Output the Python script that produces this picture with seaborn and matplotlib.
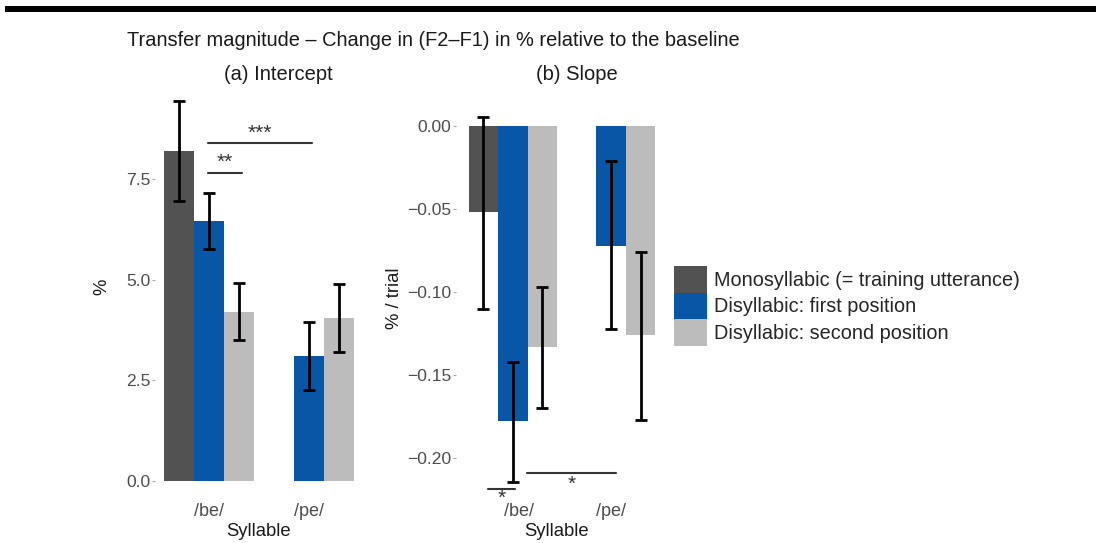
import numpy as np
import pandas as pd
import matplotlib
matplotlib.use("Agg")
import matplotlib.pyplot as plt
import matplotlib.transforms as mtransforms
import seaborn as sns
from matplotlib.patches import Patch

sns.set_theme(style="white")
plt.rcParams['font.family'] = ['Liberation Sans', 'DejaVu Sans']

# categories
syllables = ["/be/", "/pe/"]
conditions = ["Monosyllabic (= training utterance)",
              "Disyllabic: first position",
              "Disyllabic: second position"]

# (a) intercept, % -- monosyllabic only exists for /be/
int_syll = ["/be/", "/be/", "/be/", "/pe/", "/pe/"]
int_cond = [conditions[0], conditions[1], conditions[2], conditions[1], conditions[2]]
int_mean = [8.19, 6.45, 4.19, 3.10, 4.04]
int_lo = [6.95, 5.76, 3.50, 2.26, 3.20]
int_hi = [9.43, 7.15, 4.91, 3.95, 4.89]

# (b) slope, % / trial
slope_mean = [-0.052, -0.178, -0.133, -0.072, -0.126]
slope_lo = [-0.110, -0.2145, -0.170, -0.122, -0.177]
slope_hi = [0.0054, -0.142, -0.097, -0.021, -0.076]

# significance brackets: (x0, x1, y of line, y of label, label)
sig_a = [(-0.01, 0.33, 7.64, 7.90, "**"),
         (-0.01, 1.03, 8.39, 8.62, "***")]
sig_b = [(-0.255, 0.02, -0.2187, -0.2245, "*"),
         (0.14, 1.05, -0.2090, -0.2160, "*")]

COLORS = ["#525252", "#0a56a6", "#bcbcbc"]
TICK_COLOR = "#4d4d4d"
TEXT_COLOR = "#1a1a1a"

W, H = 1096, 543
fig = plt.figure(figsize=(W / 100, H / 100), dpi=100)

def px_axes(left, top, right, bottom):
    return fig.add_axes([left / W, 1 - bottom / H, (right - left) / W, (bottom - top) / H])

ax_a = px_axes(155, 84, 363, 500)
ax_b = px_axes(456, 84, 668, 500)


def draw_panel(ax, mean, lo, hi, sig, ylim, xlim, yticks, ylabel, fmt):
    df = pd.DataFrame({"Syllable": int_syll, "cond": int_cond,
                       "mean": mean, "lo": lo, "hi": hi})
    sns.barplot(data=df, x="Syllable", y="mean", hue="cond",
                order=syllables, hue_order=conditions, palette=COLORS,
                width=0.9, errorbar=None, saturation=1, ax=ax, legend=False,
                linewidth=0)
    # error bars at the bar centres
    for cond, cont in zip(conditions, ax.containers):
        sub = df[df["cond"] == cond]
        xs = [b.get_x() + b.get_width() / 2 for b in cont]
        for x, (_, row) in zip(xs, sub.iterrows()):
            ax.errorbar(x, row["mean"], yerr=[[row["mean"] - row["lo"]], [row["hi"] - row["mean"]]],
                        fmt="none", ecolor="black", elinewidth=2, capsize=4.5, capthick=2, zorder=5)
    for x0, x1, yl, yt, lab in sig:
        ax.plot([x0, x1], [yl, yl], color="#333333", lw=1.5, zorder=6)
        ax.text((x0 + x1) / 2, yt, lab, ha="center", va="center", fontsize=15, color="#333333")
    ax.set_xlim(*xlim)
    ax.set_ylim(*ylim)
    ax.set_yticks(yticks)
    ax.set_yticklabels([fmt.format(v).replace("-", "\u2212") for v in yticks])
    for s in ax.spines.values():
        s.set_visible(False)
    ax.tick_params(axis="y", length=2.5, width=0.8, color="#aaaaaa", labelcolor=TICK_COLOR,
                   labelsize=12.6, pad=1, left=True)
    ax.tick_params(axis="x", length=0, labelcolor=TICK_COLOR, labelsize=13, pad=2)
    ax.set_ylabel(ylabel, fontsize=13.3, color=TEXT_COLOR)
    ax.set_xlabel("Syllable", fontsize=13.3, color=TEXT_COLOR)
    ax.grid(False)


draw_panel(ax_a, int_mean, int_lo, int_hi, sig_a, (-0.47, 9.85), (-0.54, 1.54),
           [0.0, 2.5, 5.0, 7.5], "%", "{:.1f}")
draw_panel(ax_b, slope_mean, slope_lo, slope_hi, sig_b, (-0.2253, 0.0253), (-0.58, 1.58),
           [0.00, -0.05, -0.10, -0.15, -0.20], "% / trial", "{:.2f}")

# in panel (b) the /be/ label sits a little to the right of its group, next to the star
be_label = ax_b.get_xticklabels()[0]
be_label.set_transform(be_label.get_transform() +
                       mtransforms.ScaledTranslation(6 / 100, 0, fig.dpi_scale_trans))

# label placement like the original
ax_a.xaxis.set_label_coords(0.50, -0.055)
ax_b.xaxis.set_label_coords(0.475, -0.055)
ax_a.yaxis.set_label_coords((110 - 155) / 208, (500 - 287) / 416)
ax_b.yaxis.set_label_coords((403 - 456) / 212, (500 - 298) / 416)

fig.text(278 / W, 1 - 74 / H, "(a) Intercept", ha="center", va="center", fontsize=14.5, color=TEXT_COLOR)
fig.text(577 / W, 1 - 74 / H, "(b) Slope", ha="center", va="center", fontsize=14.5, color=TEXT_COLOR)
fig.text(433 / W, 1 - 40 / H, "Transfer magnitude \u2013 Change in (F2\u2013F1) in % relative to the baseline",
         ha="center", va="center", fontsize=14.4, color=TEXT_COLOR)

# black rule at the top of the page
fig.add_artist(plt.Rectangle((5 / W, 1 - 12 / H), 1, 6 / H, transform=fig.transFigure,
                             color="black", lw=0))

handles = [Patch(facecolor=c, edgecolor="none") for c in COLORS]
fig.legend(handles, conditions, loc="center left", bbox_to_anchor=(674 / W, 1 - 306 / H),
           frameon=False, fontsize=14.3, handlelength=1.68, handleheight=1.68,
           labelspacing=0, handletextpad=0.35, borderpad=0, borderaxespad=0)

fig.savefig("out.png", dpi=100)
